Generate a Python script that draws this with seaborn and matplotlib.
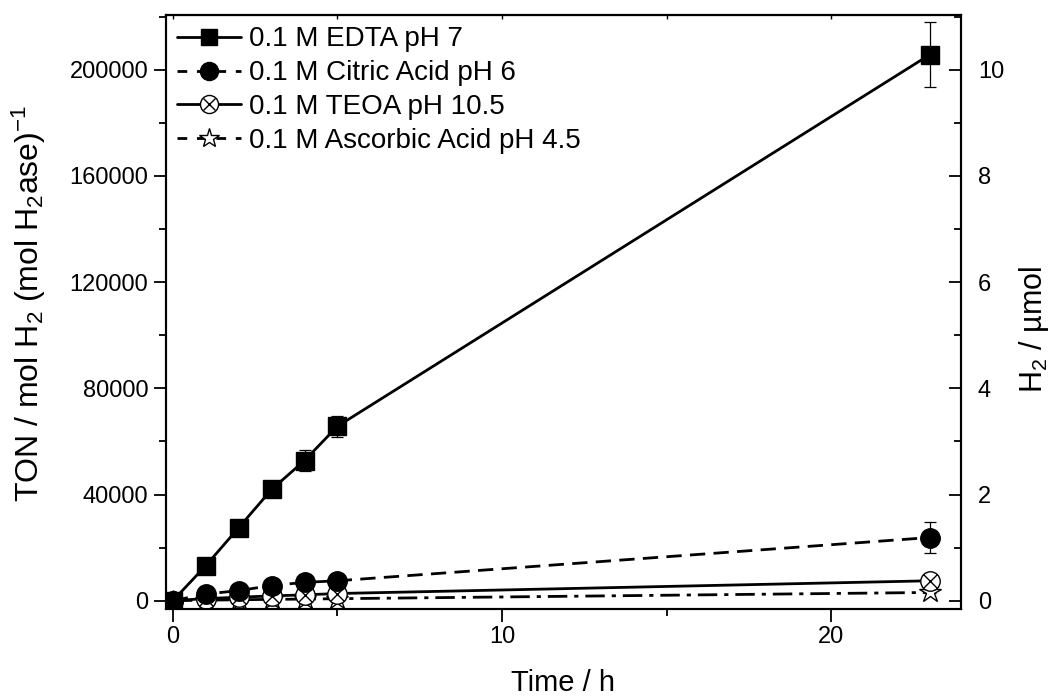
import pandas as pd
import seaborn as sns
import matplotlib.pyplot as plt
from matplotlib.lines import Line2D
from matplotlib.legend_handler import HandlerTuple
from matplotlib.ticker import MultipleLocator

sns.set_style("ticks")
plt.rcParams['font.family'] = ['Liberation Sans', 'DejaVu Sans']
plt.rcParams['mathtext.fontset'] = 'custom'
plt.rcParams['mathtext.rm'] = 'Liberation Sans'
plt.rcParams['mathtext.it'] = 'Liberation Sans:italic'
for key in ['text.color', 'axes.labelcolor', 'xtick.color', 'ytick.color', 'axes.edgecolor']:
    plt.rcParams[key] = 'black'

# time points (h)
time_h = [0, 1, 2, 3, 4, 5, 23]

# TON values
edta = [0, 13200, 27500, 41900, 52800, 65700, 205700]
edta_err = [0, 1000, 1200, 2000, 4000, 4000, 12200]
citric = [0, 2500, 3800, 5700, 6900, 7500, 23800]
citric_err = [0, 300, 400, 500, 600, 700, 5800]
teoa = [0, 800, 1300, 1800, 2200, 2700, 7500]
teoa_err = [0, 100, 150, 200, 250, 300, 700]
ascorbic = [0, 200, 350, 500, 600, 750, 3100]
ascorbic_err = [0, 50, 60, 80, 90, 100, 300]

labels = ["0.1 M EDTA pH 7", "0.1 M Citric Acid pH 6",
          "0.1 M TEOA pH 10.5", "0.1 M Ascorbic Acid pH 4.5"]

# TON -> µmol H2 conversion for right axis
ton_per_umol = 20000

df = pd.DataFrame({
    "Time": time_h * 4,
    "TON": edta + citric + teoa + ascorbic,
    "err": edta_err + citric_err + teoa_err + ascorbic_err,
    "Series": [lab for lab in labels for _ in time_h],
})

fig, ax = plt.subplots(figsize=(10.55, 6.98), dpi=100)
fig.subplots_adjust(left=0.157, right=0.911, top=0.978, bottom=0.128)

dash = (0, (5.5, 3))
dashdot = (0, (7, 2.5, 1.5, 2.5))
styles = {
    labels[0]: dict(ls="-", marker="s", mfc="black", ms=13),
    labels[1]: dict(ls=dash, marker="o", mfc="black", ms=14),
    labels[2]: dict(ls="-", marker="o", mfc="white", ms=14),
    labels[3]: dict(ls=dashdot, marker="*", mfc="white", ms=16),
}

# draw back to front so the big series sit on top
for lab in labels[::-1]:
    sub = df[df["Series"] == lab]
    st = styles[lab]
    ax.errorbar(sub["Time"], sub["TON"], yerr=sub["err"], fmt="none",
                ecolor="black", elinewidth=0.9, capsize=4.5, capthick=0.9, zorder=2)
    sns.lineplot(data=sub, x="Time", y="TON", ax=ax, color="black",
                 linestyle=st["ls"], linewidth=2.0, marker=st["marker"],
                 markersize=st["ms"], markerfacecolor=st["mfc"],
                 markeredgecolor="black", markeredgewidth=1.0, zorder=3)
    if lab == labels[2]:
        ax.plot(sub["Time"], sub["TON"], ls="none", marker="x", ms=9.5,
                mec="black", mew=1.0, zorder=4)

ax.set_xlim(-0.22, 23.95)
ax.set_ylim(-3000, 220500)
ax.xaxis.set_major_locator(MultipleLocator(10))
ax.xaxis.set_minor_locator(MultipleLocator(5))
ax.yaxis.set_major_locator(MultipleLocator(40000))
ax.yaxis.set_minor_locator(MultipleLocator(20000))
ax.tick_params(axis="both", which="major", labelsize=17, length=9, width=1.3,
               direction="out")
ax.tick_params(axis="both", which="minor", length=5, width=1.3, direction="out")
for sp in ax.spines.values():
    sp.set_linewidth(1.5)

# small inward ticks on the top edge
top = ax.secondary_xaxis("top")
top.xaxis.set_major_locator(MultipleLocator(5))
top.tick_params(axis="x", direction="in", length=3, width=1.0, labeltop=False)
top.spines["top"].set_linewidth(1.5)

ax.set_xlabel("Time / h", fontsize=21, labelpad=15)
ax.set_ylabel(r"TON / mol H$_2$ (mol H$_2$ase)$^{-1}$", fontsize=23)
ax.yaxis.set_label_coords(-0.148, 0.515)

ax2 = ax.twinx()
ax2.set_ylim(ax.get_ylim()[0] / ton_per_umol, ax.get_ylim()[1] / ton_per_umol)
ax2.yaxis.set_major_locator(MultipleLocator(2))
ax2.yaxis.set_minor_locator(MultipleLocator(1))
ax2.tick_params(axis="y", which="major", labelsize=17, length=9, width=1.3,
                direction="in", pad=12)
ax2.tick_params(axis="y", which="minor", length=5, width=1.3, direction="in")
ax2.set_ylabel(r"H$_2$ / µmol", fontsize=22)
ax2.yaxis.set_label_coords(1.07, 0.47)
for sp in ax2.spines.values():
    sp.set_linewidth(1.5)

# legend handles
h_edta = Line2D([], [], color="black", ls="-", lw=2, marker="s", ms=12, mfc="black", mec="black")
h_cit = Line2D([], [], color="black", ls=(0, (3.5, 3.5)), lw=2, marker="o", ms=13, mfc="black", mec="black")
h_teoa_o = Line2D([], [], color="black", ls="-", lw=2, marker="o", ms=13, mfc="white", mec="black")
h_teoa_x = Line2D([], [], color="black", ls="none", marker="x", ms=9, mec="black")
h_asc = Line2D([], [], color="black", ls=(0, (3.5, 3.5)), lw=2, marker="*", ms=15, mfc="white", mec="black")
ax.legend([h_edta, h_cit, (h_teoa_o, h_teoa_x), h_asc], labels,
          handler_map={tuple: HandlerTuple(ndivide=1, pad=0)},
          loc="upper left", frameon=False, fontsize=20, handlelength=2.3,
          handletextpad=0.3, labelspacing=0.28, borderaxespad=0.0)

fig.savefig("out.png", dpi=100)
